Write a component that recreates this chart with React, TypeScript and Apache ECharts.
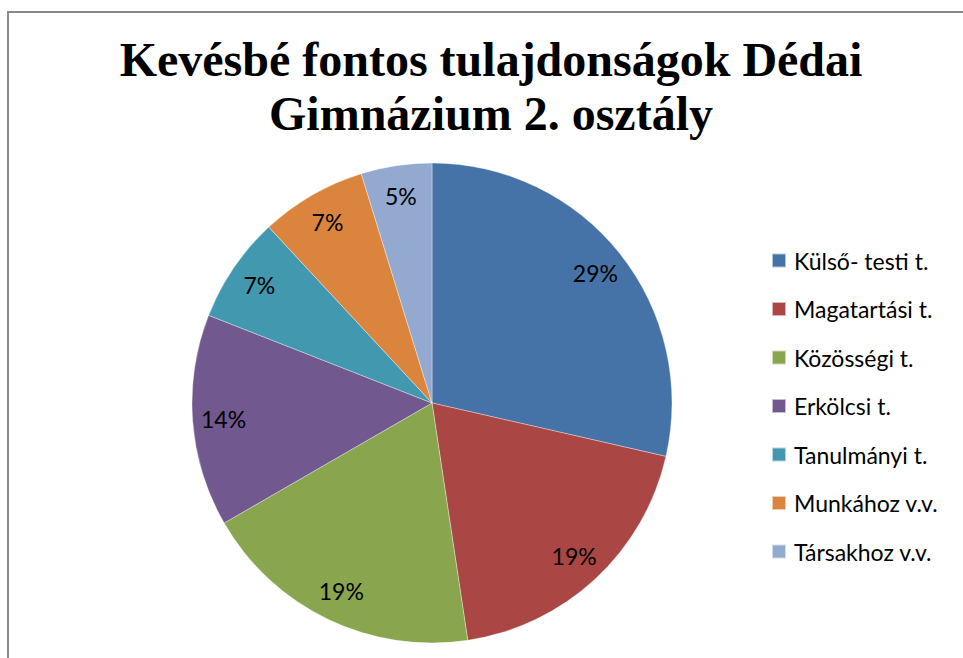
import React, { useEffect, useRef } from "react";
import * as echarts from "echarts";

const titleLines = ["Kevésbé fontos tulajdonságok Dédai", "Gimnázium 2. osztály"];
const categories = [
  "Külső- testi t.",
  "Magatartási t.",
  "Közösségi t.",
  "Erkölcsi t.",
  "Tanulmányi t.",
  "Munkához v.v.",
  "Társakhoz v.v.",
];
const values = [12, 8, 8, 6, 3, 3, 2];
const colors = ["#4572A7", "#AA4643", "#89A54E", "#71588F", "#4198AF", "#DB843D", "#93A9CF"];

export default function App() {
  const ref = useRef<HTMLDivElement>(null);
  useEffect(() => {
    if (!ref.current) return;
    const chart = echarts.init(ref.current, undefined, { renderer: "svg" });
    const data = categories.map((name, i) => ({ name, value: values[i] }));
    chart.setOption({
      animation: false,
      backgroundColor: "#ffffff",
      color: colors,
      graphic: [
        {
          type: "rect",
          shape: { x: 8, y: 12, width: 1000, height: 700 },
          style: { fill: "none", stroke: "#898989", lineWidth: 2 },
          silent: true,
        },
        ...titleLines.map((t, i) => ({
          type: "text",
          x: 491,
          y: 59 + i * 54,
          style: {
            text: t,
            fill: "#000000",
            font: 'bold 48px "Liberation Serif", "Times New Roman", serif',
            textAlign: "center",
            textVerticalAlign: "middle",
          },
          silent: true,
        })),
      ],
      legend: {
        orient: "vertical",
        left: 771,
        top: 249,
        padding: 0,
        itemWidth: 14,
        itemHeight: 14,
        itemGap: 25.5,
        icon: "rect",
        data: categories,
        selectedMode: false,
        textStyle: {
          fontFamily: "Lato",
          fontSize: 23,
          lineHeight: 23,
          color: "#000000",
          padding: [0, 0, 0, 3],
        },
      },
      series: [
        {
          type: "pie",
          center: [432, 403],
          radius: [0, 240],
          startAngle: 90,
          clockwise: true,
          data,
          label: { show: false },
          labelLine: { show: false },
          itemStyle: { borderColor: "rgba(255,255,255,0.6)", borderWidth: 0.6 },
          emphasis: { disabled: true },
          silent: true,
        },
        {
          type: "pie",
          center: [432, 403],
          radius: [172, 240],
          startAngle: 90,
          clockwise: true,
          percentPrecision: 0,
          data: data.map((d) => ({ ...d, itemStyle: { color: "rgba(0,0,0,0)" } })),
          label: {
            show: true,
            position: "inside",
            formatter: "{d}%",
            fontFamily: "Lato",
            fontSize: 23,
            color: "#000000",
          },
          labelLine: { show: false },
          emphasis: { disabled: true },
          silent: true,
        },
      ],
    });
    return () => chart.dispose();
  }, []);
  return (
    <div
      ref={ref}
      style={{ position: "fixed", left: 0, top: 0, width: 963, height: 658 }}
    />
  );
}
